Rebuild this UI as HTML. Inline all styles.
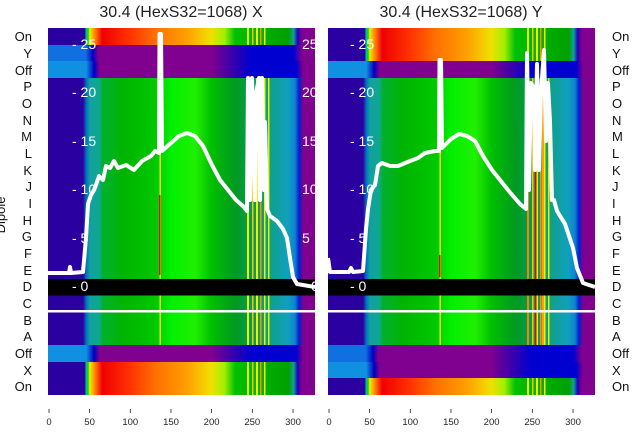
<!DOCTYPE html>
<html><head><meta charset="utf-8"><style>
html,body{margin:0;padding:0;background:#fff;width:640px;height:440px;overflow:hidden}
svg text{font-family:"Liberation Sans","DejaVu Sans",sans-serif}
</style></head><body>
<svg width="640" height="440" viewBox="0 0 640 440" xmlns="http://www.w3.org/2000/svg">
<defs>
<linearGradient id="G" gradientUnits="userSpaceOnUse" x1="0" y1="0" x2="266" y2="0">
<stop offset="0" stop-color="#2a00a0"/><stop offset="0.128" stop-color="#2a00a0"/><stop offset="0.14" stop-color="#0070c0"/><stop offset="0.153" stop-color="#10a0a0"/><stop offset="0.19" stop-color="#10a890"/><stop offset="0.2" stop-color="#00b030"/><stop offset="0.28" stop-color="#00b400"/><stop offset="0.4" stop-color="#00c800"/><stop offset="0.46" stop-color="#00f000"/><stop offset="0.55" stop-color="#20f000"/><stop offset="0.61" stop-color="#00c000"/><stop offset="0.7" stop-color="#009a20"/><stop offset="0.84" stop-color="#10a090"/><stop offset="0.9" stop-color="#10a0c0"/><stop offset="0.925" stop-color="#1080d0"/><stop offset="0.94" stop-color="#0020d0"/><stop offset="0.955" stop-color="#800090"/><stop offset="1" stop-color="#800090"/>
</linearGradient>
<linearGradient id="R" gradientUnits="userSpaceOnUse" x1="0" y1="0" x2="266" y2="0">
<stop offset="0" stop-color="#2a00a0"/><stop offset="0.134" stop-color="#2a00a0"/><stop offset="0.14" stop-color="#00c0a0"/><stop offset="0.147" stop-color="#00e000"/><stop offset="0.153" stop-color="#f0f000"/><stop offset="0.17" stop-color="#ff9000"/><stop offset="0.2" stop-color="#f00000"/><stop offset="0.3" stop-color="#ff3000"/><stop offset="0.4" stop-color="#ff7000"/><stop offset="0.52" stop-color="#ffa000"/><stop offset="0.61" stop-color="#f0e000"/><stop offset="0.66" stop-color="#a0f000"/><stop offset="0.7" stop-color="#00c000"/><stop offset="0.9" stop-color="#00a000"/><stop offset="0.92" stop-color="#10a090"/><stop offset="0.935" stop-color="#2000c0"/><stop offset="0.95" stop-color="#800090"/><stop offset="1" stop-color="#800090"/>
</linearGradient>
<linearGradient id="P" gradientUnits="userSpaceOnUse" x1="0" y1="0" x2="266" y2="0">
<stop offset="0" stop-color="#1070e0"/><stop offset="0.138" stop-color="#1070e0"/><stop offset="0.165" stop-color="#0000c0"/><stop offset="0.185" stop-color="#800090"/><stop offset="0.61" stop-color="#800090"/><stop offset="0.7" stop-color="#3000b0"/><stop offset="0.76" stop-color="#0000d0"/><stop offset="0.92" stop-color="#0000d0"/><stop offset="0.95" stop-color="#800090"/><stop offset="1" stop-color="#800090"/>
</linearGradient>
<linearGradient id="L" gradientUnits="userSpaceOnUse" x1="0" y1="0" x2="266" y2="0">
<stop offset="0" stop-color="#1090e0"/><stop offset="0.14" stop-color="#1090e0"/><stop offset="0.17" stop-color="#0000c0"/><stop offset="0.19" stop-color="#800090"/><stop offset="0.61" stop-color="#800090"/><stop offset="0.7" stop-color="#3000b0"/><stop offset="0.76" stop-color="#0000d0"/><stop offset="0.93" stop-color="#0000d0"/><stop offset="0.955" stop-color="#800090"/><stop offset="1" stop-color="#800090"/>
</linearGradient>
<clipPath id="cl"><rect x="-1" y="28" width="267" height="367"/></clipPath>
<g id="stripes">
<rect x="110.5" y="0" width="1.5" height="1" fill="#f0f000"/>
<rect x="198" y="0" width="2" height="1" fill="#f0f000"/>
<rect x="203" y="0" width="1.5" height="1" fill="#ffc000"/>
<rect x="207" y="0" width="2" height="1" fill="#f0f000"/>
<rect x="211" y="0" width="1.5" height="1" fill="#ff9000"/>
<rect x="215" y="0" width="1.5" height="1" fill="#f0f000"/>
<rect x="219" y="0" width="1.5" height="1" fill="#e0f000"/>
</g>
<g id="stripes2">
<rect x="198" y="0" width="2" height="1" fill="#f0f000"/>
<rect x="203" y="0" width="1.5" height="1" fill="#ffc000"/>
<rect x="207" y="0" width="2" height="1" fill="#f0f000"/>
<rect x="211" y="0" width="1.5" height="1" fill="#ff9000"/>
<rect x="215" y="0" width="1.5" height="1" fill="#f0f000"/>
</g>
</defs>

<text x="181" y="17" font-size="16" text-anchor="middle" fill="#222">30.4 (HexS32=1068) X</text>
<text x="461" y="17" font-size="16" text-anchor="middle" fill="#222">30.4 (HexS32=1068) Y</text>

<!-- LEFT PANEL -->
<g transform="translate(49,0)">
<g clip-path="url(#cl)">
<rect x="-1" y="28" width="267" height="17" fill="url(#R)"/>
<rect x="-1" y="45" width="267" height="17" fill="url(#P)"/>
<rect x="-1" y="61" width="267" height="17" fill="url(#L)"/>
<rect x="-1" y="78" width="267" height="268" fill="url(#G)"/>
<rect x="-1" y="345" width="267" height="17" fill="url(#L)"/>
<rect x="-1" y="362" width="267" height="33" fill="url(#R)"/>
<g transform="translate(0,78) scale(1,267)"><use href="#stripes"/></g>
<g transform="translate(0,28) scale(1,17)"><use href="#stripes2"/></g>
<g transform="translate(0,362) scale(1,33)"><use href="#stripes2"/></g>
<rect x="110" y="195" width="1.5" height="80" fill="#f00000"/>
<rect x="-1" y="279" width="267" height="16.5" fill="#000"/>
<rect x="-1" y="310" width="267" height="2.5" fill="#fff"/>
<g fill="#fff" font-size="14">
<text x="23" y="49">- 25</text><text x="23" y="97">- 20</text><text x="23" y="146">- 15</text><text x="23" y="194">- 10</text><text x="23" y="243">- 5</text><text x="23" y="291">- 0</text>
<text x="253" y="49">25</text><text x="253" y="97">20</text><text x="253" y="146">15</text><text x="253" y="194">10</text><text x="253" y="243">5</text><text x="262" y="291">0</text>
</g>
<polyline fill="none" stroke="#fff" stroke-width="4" stroke-linejoin="round" points="-1,273 20,273 21,267 22,273 34,272 37,238 39,204 42,195 45,190 47,185 50,176 54,180 57,166 61,168 65,161 69,168 77,165 85,170 93,161 102,156 106,151 110,153 110.5,34 112,34 113,151 122,143 130,136 138,133 146,136 154,146 163,165 171,180 179,190 187,200 195,207 198,211 199,78 201,200 203,78 206,200 207,93 210,78 211,200 213,78 215,190 216,122 218,209 221,216 228,221 234,229 238,238 241,258 244,277 248,284 266,287"/>
</g>
</g>

<!-- RIGHT PANEL -->
<g transform="translate(329,0)">
<g clip-path="url(#cl)">
<rect x="-1" y="28" width="267" height="33" fill="url(#R)"/>
<rect x="-1" y="61" width="267" height="17" fill="url(#L)"/>
<rect x="-1" y="78" width="267" height="268" fill="url(#G)"/>
<rect x="-1" y="345" width="267" height="17" fill="url(#P)"/>
<rect x="-1" y="362" width="267" height="16.5" fill="url(#L)"/>
<rect x="-1" y="378" width="267" height="17" fill="url(#R)"/>
<g transform="translate(0,78) scale(1,267)"><use href="#stripes"/></g>
<g transform="translate(0,28) scale(1,33)"><use href="#stripes2"/></g>
<g transform="translate(0,378) scale(1,17)"><use href="#stripes2"/></g>
<rect x="198" y="80" width="2" height="265" fill="#ff8000"/>
<rect x="206" y="80" width="1.5" height="265" fill="#f00000"/>
<rect x="213" y="80" width="2" height="265" fill="#ffa000"/>
<rect x="110" y="255" width="1.5" height="22" fill="#f00000"/>
<rect x="-1" y="279" width="267" height="16.5" fill="#000"/>
<rect x="-1" y="310" width="267" height="2.5" fill="#fff"/>
<g fill="#fff" font-size="14">
<text x="21" y="49">- 25</text><text x="21" y="97">- 20</text><text x="21" y="146">- 15</text><text x="21" y="194">- 10</text><text x="21" y="243">- 5</text><text x="21" y="291">- 0</text>
</g>
<polyline fill="none" stroke="#fff" stroke-width="4" stroke-linejoin="round" points="-1,258 1,272 20,272 22,268 24,272 34,271 37,229 39,209 42,190 46,185 49,166 53,163 61,166 69,166 81,161 89,158 96,153 106,151 110,151 110.5,60 112,60 113,148 122,139 130,134 138,136 146,141 154,156 163,170 171,180 179,190 191,204 197,209 198,53 200,190 202,83 205,88 206,170 208,64 210,170 212,92 215,50 217,141 219,83 221,122 223,200 225,200 228,211 236,224 244,248 248,268 254,283 266,287"/>
</g>
</g>

<!-- row labels -->
<g font-size="13" fill="#111" text-anchor="end">
<text x="32" y="41">On</text><text x="32" y="58">Y</text><text x="32" y="75">Off</text><text x="32" y="91">P</text><text x="32" y="108">O</text><text x="32" y="125">N</text><text x="32" y="141">M</text><text x="32" y="158">L</text><text x="32" y="175">K</text><text x="32" y="191">J</text><text x="32" y="208">I</text><text x="32" y="225">H</text><text x="32" y="241">G</text><text x="32" y="258">F</text><text x="32" y="275">E</text><text x="32" y="291">D</text><text x="32" y="308">C</text><text x="32" y="325">B</text><text x="32" y="341">A</text><text x="32" y="358">Off</text><text x="32" y="375">X</text><text x="32" y="391">On</text>
</g>
<g font-size="13" fill="#111">
<text x="612" y="41">On</text><text x="612" y="58">Y</text><text x="612" y="75">Off</text><text x="612" y="91">P</text><text x="612" y="108">O</text><text x="612" y="125">N</text><text x="612" y="141">M</text><text x="612" y="158">L</text><text x="612" y="175">K</text><text x="612" y="191">J</text><text x="612" y="208">I</text><text x="612" y="225">H</text><text x="612" y="241">G</text><text x="612" y="258">F</text><text x="612" y="275">E</text><text x="612" y="291">D</text><text x="612" y="308">C</text><text x="612" y="325">B</text><text x="612" y="341">A</text><text x="612" y="358">Off</text><text x="612" y="375">X</text><text x="612" y="391">On</text>
</g>
<text transform="translate(5,215) rotate(-90)" font-size="13" fill="#111" text-anchor="middle">Dipole</text>

<!-- x axes -->
<g stroke="#222" stroke-width="0.8">
<line x1="49" y1="409" x2="49" y2="413"/><line x1="89.6" y1="409" x2="89.6" y2="413"/><line x1="130.3" y1="409" x2="130.3" y2="413"/><line x1="171" y1="409" x2="171" y2="413"/><line x1="211.6" y1="409" x2="211.6" y2="413"/><line x1="252.3" y1="409" x2="252.3" y2="413"/><line x1="293" y1="409" x2="293" y2="413"/>
<line x1="329" y1="409" x2="329" y2="413"/><line x1="369.6" y1="409" x2="369.6" y2="413"/><line x1="410.3" y1="409" x2="410.3" y2="413"/><line x1="451" y1="409" x2="451" y2="413"/><line x1="491.6" y1="409" x2="491.6" y2="413"/><line x1="532.3" y1="409" x2="532.3" y2="413"/><line x1="573" y1="409" x2="573" y2="413"/>
</g>
<g font-size="9.5" fill="#222" text-anchor="middle">
<text x="49" y="425">0</text><text x="89.6" y="425">50</text><text x="130.3" y="425">100</text><text x="171" y="425">150</text><text x="211.6" y="425">200</text><text x="252.3" y="425">250</text><text x="293" y="425">300</text>
<text x="329" y="425">0</text><text x="369.6" y="425">50</text><text x="410.3" y="425">100</text><text x="451" y="425">150</text><text x="491.6" y="425">200</text><text x="532.3" y="425">250</text><text x="573" y="425">300</text>
</g>
</svg>
</body></html>
